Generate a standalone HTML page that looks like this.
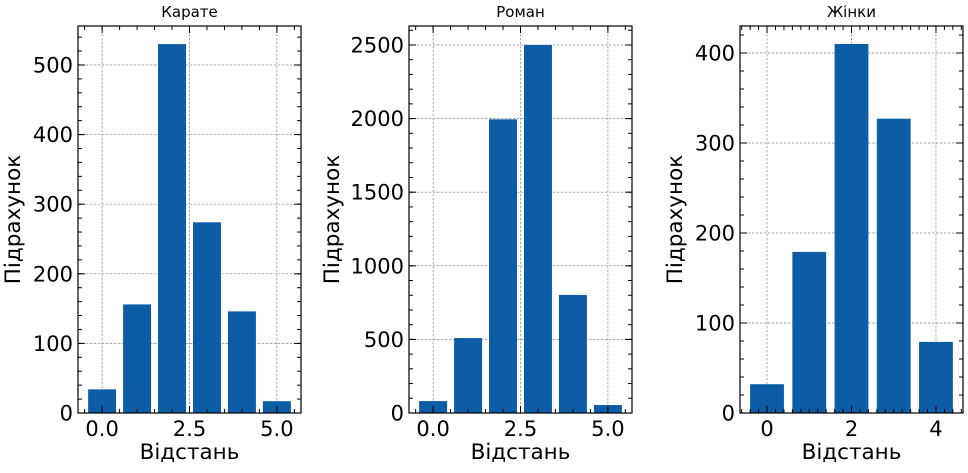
<!DOCTYPE html>
<html><head><meta charset="utf-8"><style>
body{margin:0;background:#fff;}
svg text{font-family:"DejaVu Sans","Liberation Sans",sans-serif;fill:#000;}
</style></head><body>
<svg id="c" width="968" height="468" xmlns="http://www.w3.org/2000/svg"></svg>
<script>
const titles=["Карате","Роман","Жінки"];
const cats1=[0,1,2,3,4,5];
const vals1=[34,156,530,274,146,17];
const cats2=[0,1,2,3,4,5];
const vals2=[81,509,1995,2500,802,54];
const cats3=[0,1,2,3,4];
const vals3=[32,179,410,327,79];
const xt1=["0.0","2.5","5.0"], xtv1=[0,2.5,5];
const xt3=["0","2","4"], xtv3=[0,2,4];
const yt1=[0,100,200,300,400,500];
const yt2=[0,500,1000,1500,2000,2500];
const yt3=[0,100,200,300,400];
const panels=[
 {l:78,r:301,xmin:-0.69,xmax:5.69,ymax:556,cats:cats1,vals:vals1,xt:xt1,xtv:xtv1,xminor:0.5,yt:yt1,yminor:20},
 {l:409,r:632,xmin:-0.69,xmax:5.69,ymax:2629,cats:cats2,vals:vals2,xt:xt1,xtv:xtv1,xminor:0.5,yt:yt2,yminor:100},
 {l:740,r:963,xmin:-0.64,xmax:4.64,ymax:430,cats:cats3,vals:vals3,xt:xt3,xtv:xtv3,xminor:0.2,yt:yt3,yminor:20}
];
const svg=document.getElementById('c');
const NS='http://www.w3.org/2000/svg';
function mk(t,a,p){const e=document.createElementNS(NS,t);for(const k in a)e.setAttribute(k,a[k]);(p||svg).appendChild(e);return e;}
const T=26,B=413;
panels.forEach((p,i)=>{
 const g=mk('g',{});
 
 
 const X=v=>p.l+(v-p.xmin)/(p.xmax-p.xmin)*(p.r-p.l);
 const Y=v=>B-v/p.ymax*(B-T);
 p.xtv.forEach(v=>{const l=mk('line',{x1:X(v),x2:X(v),y1:T,y2:B,stroke:'#888','stroke-width':0.7,'stroke-dasharray':'2.5,1.5'},g);});
 p.yt.forEach(v=>{const l=mk('line',{x1:p.l,x2:p.r,y1:Y(v),y2:Y(v),stroke:'#888','stroke-width':0.7,'stroke-dasharray':'2.5,1.5'},g);});
 p.cats.forEach((c,j)=>{const w=X(0.8)-X(0);const r=mk('rect',{x:X(c-0.4),y:Y(p.vals[j]),width:w,height:B-Y(p.vals[j]),fill:'#0c5da5'},g);});
 const tk=[];
 p.xtv.forEach(v=>{tk.push([X(v),B,X(v),B-7],[X(v),T,X(v),T+7]);});
 for(let v=Math.ceil(p.xmin/p.xminor)*p.xminor;v<=p.xmax;v+=p.xminor){tk.push([X(v),B,X(v),B-4],[X(v),T,X(v),T+4]);}
 p.yt.forEach(v=>{tk.push([p.l,Y(v),p.l+7,Y(v)],[p.r,Y(v),p.r-7,Y(v)]);});
 for(let v=0;v<=p.ymax;v+=p.yminor){tk.push([p.l,Y(v),p.l+4,Y(v)],[p.r,Y(v),p.r-4,Y(v)]);}
 tk.forEach(t=>mk('line',{x1:t[0],y1:t[1],x2:t[2],y2:t[3],stroke:'#000','stroke-width':1},g));
 const fr=mk('rect',{x:p.l,y:T,width:p.r-p.l,height:B-T,fill:'none',stroke:'#000','stroke-width':1.2},g);
 
 p.xt.forEach((s,j)=>{const t=mk('text',{x:X(p.xtv[j]),y:B+23,'font-size':21,'text-anchor':'middle'},g);t.textContent=s;});
 p.yt.forEach(v=>{const t=mk('text',{x:p.l-5,y:Y(v)+7.5,'font-size':21,'text-anchor':'end'},g);t.textContent=v;});
 const xl=mk('text',{x:(p.l+p.r)/2,y:459,'font-size':21.5,'text-anchor':'middle'},g);xl.textContent='Відстань';
 
 const yx=p.l-(i==1?70:58);
 const yl=mk('text',{x:yx,y:(T+B)/2,'font-size':21.5,'text-anchor':'middle',transform:`rotate(-90 ${yx} ${(T+B)/2})`},g);yl.textContent='Підрахунок';
 
 const tt=mk('text',{x:(p.l+p.r)/2,y:17,'font-size':15,'text-anchor':'middle'},g);tt.textContent=titles[i];
 
});
</script>
</body></html>
